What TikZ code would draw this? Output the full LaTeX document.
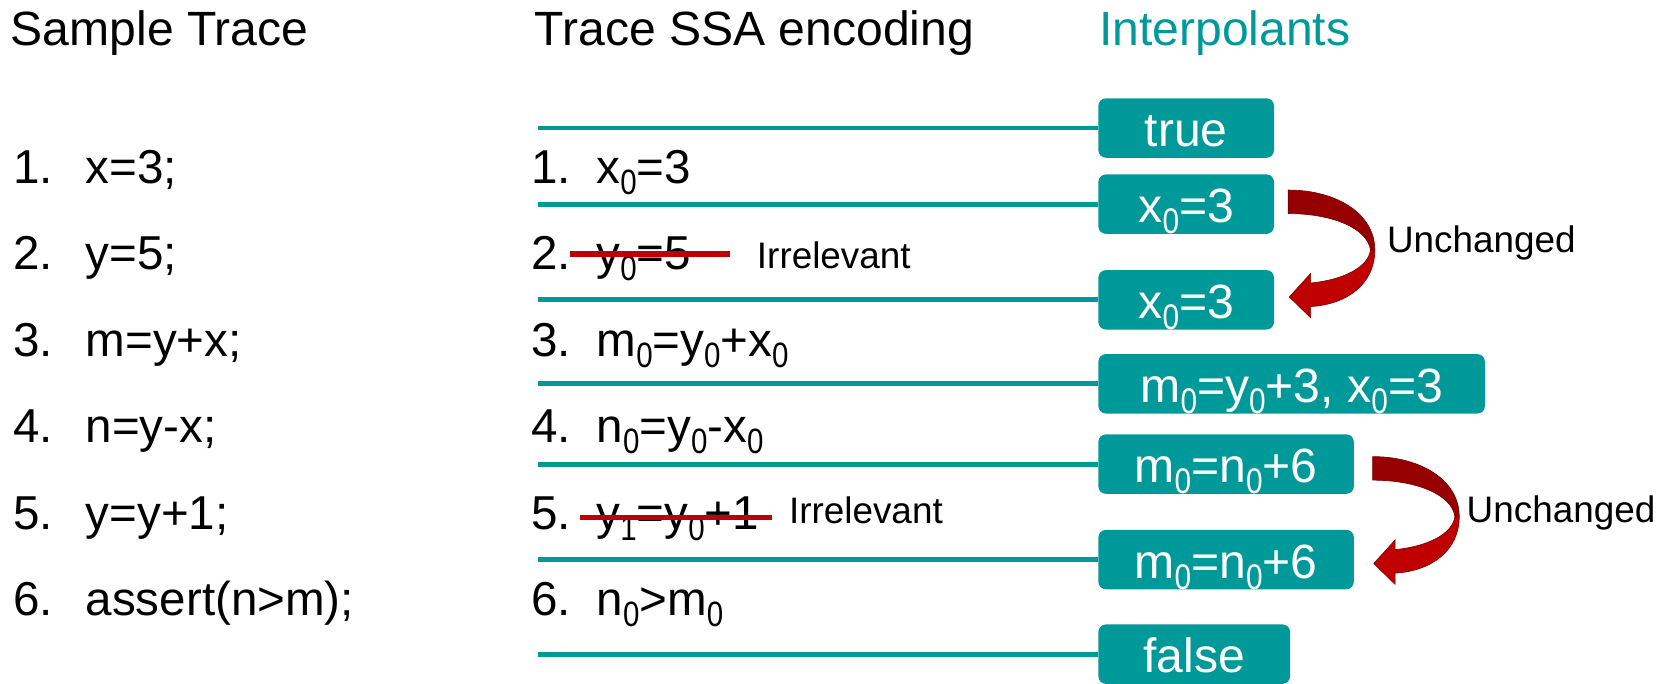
\documentclass[tikz,border=0pt]{standalone}
\usepackage{fontspec}
\setmainfont{Liberation Sans}
\usepackage{graphicx}
\usetikzlibrary{calc}

\definecolor{ssateal}{RGB}{0,153,153}
\definecolor{strikered}{RGB}{192,0,0}
\definecolor{arrowdark}{RGB}{150,0,0}
\definecolor{arrowlight}{RGB}{192,0,0}
\definecolor{arrowedge}{RGB}{120,0,0}

\newcommand{\hdfont}{\fontsize{45}{50}\selectfont}
\newcommand{\itfont}{\fontsize{44.5}{50}\selectfont}
\newcommand{\bxfont}{\fontsize{45}{50}\selectfont}
\newcommand{\lbfont}{\fontsize{34.5}{40}\selectfont}
% SSA index, set small and lowered
\newcommand{\zs}[1]{\raisebox{-0.23em}{\scalebox{0.62}[0.74]{#1}}}

\tikzset{
  txt/.style={inner sep=0pt, anchor=base west, font=\itfont},
  hdr/.style={inner sep=0pt, anchor=base west, font=\hdfont},
  lbl/.style={inner sep=0pt, anchor=base west, font=\lbfont},
  ipbox/.style={rectangle, rounded corners=7pt, fill=ssateal, text=white,
    font=\bxfont, minimum height=55.6pt, inner xsep=0pt, inner ysep=0pt,
    text height=35pt, text depth=0pt, anchor=west},
  railline/.style={draw=ssateal, line width=4.5pt},
  strike/.style={draw=strikered, line width=5pt},
  bend arrow/.pic={
    % back part of the ribbon
    \fill[arrowdark, draw=arrowedge, line width=0.6pt]
      (0,0) .. controls (45,0) and (81,22) .. (81,56)
      -- (77,56) .. controls (74,36) and (42,22) .. (0,22) -- cycle;
    % front part with the head
    \fill[arrowlight, draw=arrowedge, line width=0.6pt]
      (81,56) .. controls (81,88) and (55,107) .. (21,109)
      -- (21,119.5) -- (1,100) -- (21,78) -- (21,87)
      .. controls (52,84) and (75,72) .. (77,56) -- cycle;
  }
}

\begin{document}
\begin{tikzpicture}[x=1pt,y=-1pt]
\useasboundingbox (0,0) rectangle (1568,639);

% column headings
\node[hdr] (hSample) at (10,42.7) {Sample Trace};
\node[hdr] (hSSA) at (500,42.7) {Trace SSA encoding};
\node[hdr, text=ssateal] (hInterp) at (1028,42.7) {Interpolants};

% sample trace
\node[txt] (t1) at (12,171.8) {\makebox[68pt][l]{1.}x=3;};
\node[txt] (t2) at (12,252.6) {\makebox[68pt][l]{2.}y=5;};
\node[txt] (t3) at (12,333.4) {\makebox[68pt][l]{3.}m=y+x;};
\node[txt] (t4) at (12,414.2) {\makebox[68pt][l]{4.}n=y-x;};
\node[txt] (t5) at (12,495.0) {\makebox[68pt][l]{5.}y=y+1;};
\node[txt] (t6) at (12,575.8) {\makebox[68pt][l]{6.}assert(n>m);};

% SSA encoding
\node[txt] (s1) at (497,171.8) {\makebox[61pt][l]{1.}x\zs{0}=3};
\node[txt] (n2) at (497,252.6) {2.};
\node[txt] (s2) at (558,252.6) {y\zs{0}=5};
\node[txt] (s3) at (497,333.4) {\makebox[61pt][l]{3.}m\zs{0}=y\zs{0}+x\zs{0}};
\node[txt] (s4) at (497,414.2) {\makebox[61pt][l]{4.}n\zs{0}=y\zs{0}-x\zs{0}};
\node[txt] (n5) at (497,495.0) {5.};
\node[txt] (s5) at (558,495.0) {y\zs{1}=y\zs{0}+1};
\node[txt] (s6) at (497,575.8) {\makebox[61pt][l]{6.}n\zs{0}>m\zs{0}};

% dropped statements
\draw[strike] (533,237.6) -- (683,237.6);
\draw[strike] (543,484) -- (722,484);
\node[lbl] (irr1) at (708,251) {Irrelevant};
\node[lbl] (irr2) at (738,489.6) {Irrelevant};

% interpolants
\node[ipbox, minimum width=164.3pt] (bT)  at (1027.4,119.8) {true};
\node[ipbox, minimum width=164.3pt] (bX1) at (1027.4,191.0) {x\zs{0}=3};
\node[ipbox, minimum width=164.3pt] (bX2) at (1027.4,280.5) {x\zs{0}=3};
\node[ipbox, minimum width=361.6pt] (bM)  at (1027.4,359.1) {m\zs{0}=y\zs{0}+3, x\zs{0}=3};
\node[ipbox, minimum width=239pt]   (bN1) at (1027.4,434.2) {m\zs{0}=n\zs{0}+6};
\node[ipbox, minimum width=239pt]   (bN2) at (1027.4,523.5) {m\zs{0}=n\zs{0}+6};
\node[ipbox, minimum width=179.3pt] (bF)  at (1027.4,612.0) {false};

% rails between the statements
\coordinate (rail) at (503,0);
\foreach \b in {bT,bX1,bX2,bM,bN1,bN2,bF}
  \draw[railline] (rail |- \b.west) -- (\b.west);

% unchanged interpolants
\coordinate (u1) at (1205.2,177.8);
\coordinate (u2) at (1284.2,427.2);
\pic at (u1) {bend arrow};
\pic at (u2) {bend arrow};
\node[lbl] (unc1) at (1297.5,236.4) {Unchanged};
\node[lbl] (unc2) at (1372,489) {Unchanged};
\end{tikzpicture}
\end{document}
